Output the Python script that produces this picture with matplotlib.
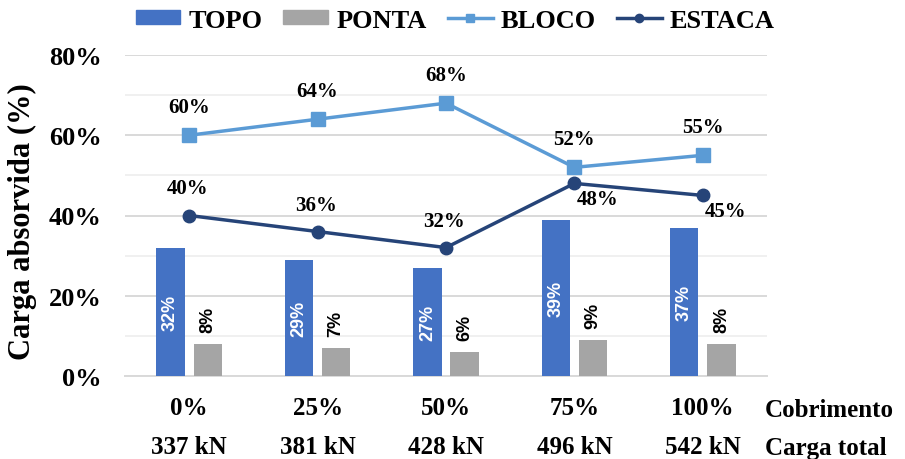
import numpy as np
import matplotlib
matplotlib.use('Agg')
import matplotlib.pyplot as plt
from matplotlib.patches import Patch
from matplotlib.lines import Line2D
from matplotlib.ticker import MultipleLocator, PercentFormatter
import matplotlib.transforms as mtransforms

# data
cobrimento = ['0%', '25%', '50%', '75%', '100%']
carga_total = ['337 kN', '381 kN', '428 kN', '496 kN', '542 kN']
topo = [32, 29, 27, 39, 37]
ponta = [8, 7, 6, 9, 8]
bloco = [60, 64, 68, 52, 55]
estaca = [40, 36, 32, 48, 45]

c_topo = '#4472C4'
c_ponta = '#A5A5A5'
c_bloco = '#5B9BD5'
c_estaca = '#264478'
serif = 'Liberation Serif'
sans = 'Liberation Sans'

plt.rcParams['font.family'] = serif
plt.rcParams['font.weight'] = 'bold'

fig = plt.figure(figsize=(9.05, 4.6), dpi=100)
ax = fig.add_axes([125 / 905, 1 - 377 / 460, 642 / 905, 321 / 460])

x = np.arange(len(cobrimento))
w = 0.22
off = 0.145

# bars
ax.bar(x - off, topo, w, color=c_topo, zorder=3)
ax.bar(x + off, ponta, w, color=c_ponta, zorder=3)

for xi, v in zip(x, topo):
    ax.text(xi - off, v / 2, '%d%%' % v, rotation=90, ha='center', va='center',
            color='white', fontsize=13, fontweight='bold', family=sans, zorder=4)
for xi, v in zip(x, ponta):
    ax.annotate('%d%%' % v, (xi + off, v), xytext=(0, 12), textcoords='offset pixels',
                rotation=90, ha='center', va='bottom', color='black',
                fontsize=13, fontweight='bold', family=sans, zorder=4)

# lines
ax.plot(x, bloco, color=c_bloco, lw=2.5, marker='s', ms=9.5, zorder=5)
ax.plot(x, estaca, color=c_estaca, lw=2.5, marker='o', ms=9, zorder=5)

for xi, v in zip(x, bloco):
    ax.annotate('%d%%' % v, (xi, v), xytext=(0, 28), textcoords='offset pixels',
                ha='center', va='center', fontsize=15, fontweight='bold')
for i, (xi, v) in enumerate(zip(x, estaca)):
    if i < 3:
        dx, dy = -2, 27
    else:
        dx, dy = 23, -16
    ax.annotate('%d%%' % v, (xi, v), xytext=(dx, dy), textcoords='offset pixels',
                ha='center', va='center', fontsize=15, fontweight='bold')

# axes styling
ax.set_xlim(-0.5, len(x) - 0.5)
ax.set_ylim(0, 80)
ax.yaxis.set_major_locator(MultipleLocator(20))
ax.yaxis.set_minor_locator(MultipleLocator(10))
ax.yaxis.set_major_formatter(PercentFormatter(decimals=0))
ax.grid(axis='y', which='major', color='#D9D9D9', lw=1.4, zorder=0)
ax.grid(axis='y', which='minor', color='#F0F0F0', lw=1.4, zorder=0)
ax.tick_params(axis='y', which='both', length=0, pad=17, labelsize=19)
ax.tick_params(axis='x', length=0)
ax.set_xticks([])
for s in ['left', 'right', 'top']:
    ax.spines[s].set_visible(False)
ax.spines['bottom'].set_color('#D9D9D9')
ax.spines['bottom'].set_linewidth(1.4)

# two-row category labels
trans = mtransforms.blended_transform_factory(ax.transData, fig.transFigure)
for xi, a, b in zip(x, cobrimento, carga_total):
    fig.text(xi, 1 - 409 / 460, a, transform=trans, ha='center', va='center', fontsize=18)
    fig.text(xi, 1 - 448 / 460, b, transform=trans, ha='center', va='center', fontsize=18)
fig.text(765 / 905, 1 - 411 / 460, 'Cobrimento', ha='left', va='center', fontsize=18)
fig.text(765 / 905, 1 - 449 / 460, 'Carga total', ha='left', va='center', fontsize=18)

fig.text(22 / 905, 1 - 222 / 460, 'Carga absorvida (%)', rotation=90,
         ha='center', va='center', fontsize=22)

handles = [Patch(color=c_topo, label='TOPO'),
           Patch(color=c_ponta, label='PONTA'),
           Line2D([], [], color=c_bloco, lw=2.5, marker='s', ms=6, label='BLOCO'),
           Line2D([], [], color=c_estaca, lw=2.5, marker='o', ms=6, label='ESTACA')]
fig.legend(handles=handles, loc='center', bbox_to_anchor=(455 / 905, 1 - 21 / 460),
           ncol=4, frameon=False, prop={'family': serif, 'weight': 'bold', 'size': 19},
           handlelength=1.7, handleheight=0.45, columnspacing=0.8, handletextpad=0.3)

fig.savefig('out.png', dpi=100)
